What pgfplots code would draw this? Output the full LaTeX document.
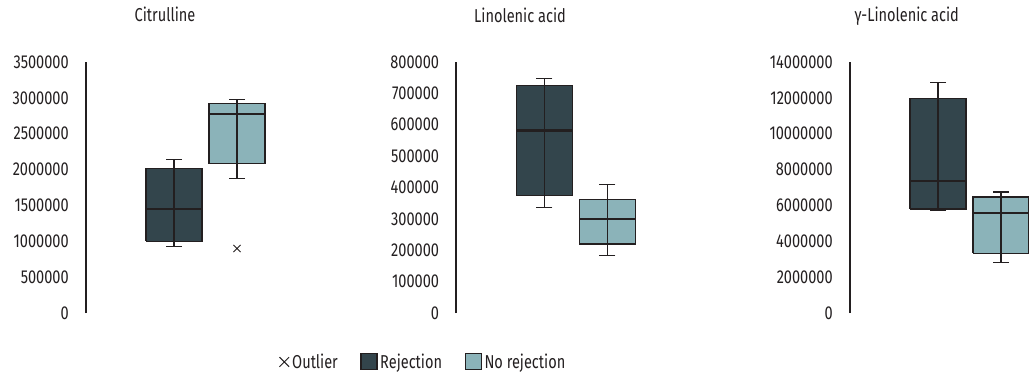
\documentclass[border=0pt]{standalone}
\usepackage{pgfplots}
\pgfplotsset{compat=1.18}
\usepackage{fontspec}
\setmainfont[FakeStretch=0.78]{Fira Sans}
\definecolor{rej}{HTML}{33454C}
\definecolor{norej}{HTML}{8BB3B9}
\definecolor{ink}{HTML}{231F20}
\pgfplotsset{
  panel/.style={
    scale only axis, width=135pt, height=188.25pt,
    xmin=0, xmax=180, ymin=0, enlarge y limits=false, enlarge x limits=false,
    axis x line=none, axis y line*=left,
    axis line style={draw=ink, line width=1.5pt, -},
    major tick length=0pt, ytick style={draw=none},
    scaled y ticks=false,
    /pgf/number format/assume math mode=true,
    yticklabel={\pgfmathprintnumber[fixed,precision=0,1000 sep={}]{\tick}},
    yticklabel style={anchor=east, inner sep=0pt, xshift=-12.75pt, text=ink},
    tick label style={font=\fontsize{14}{16}\selectfont},
    title style={font=\fontsize{14}{16}\selectfont, anchor=base, text=ink},
    clip=false,
  },
}
% #1 left, #2 centre, #3 right, #4 fill, #5 lower whisker, #6 lower quartile, #7 median, #8 upper quartile, #9 upper whisker
\newcommand\mybox[9]{%
  \addplot[fill=#4, draw=ink, line width=0.8pt, line join=miter, forget plot]
    coordinates {(#1,#6) (#3,#6) (#3,#8) (#1,#8) (#1,#6)};
  \addplot[draw=ink, line width=1.7pt, forget plot] coordinates {(#1,#7) (#3,#7)};
  \addplot[draw=ink, line width=0.8pt, mark=-, mark size=6pt,
    mark options={line width=0.8pt}, forget plot] coordinates {(#2,#5) (#2,#9)};
}
\begin{document}
\begin{tikzpicture}
% Panel 1: Citrulline
\begin{axis}[panel, at={(64.5pt,44.25pt)}, anchor=south west,
  ymax=3500000, ytick distance=500000,
  title={Citrulline}, title style={at={(axis description cs:0.439,1.1275)}},
  legend style={at={(axis description cs:1.875,-0.195)}, anchor=center, draw=none,
    font=\fontsize{14}{16}\selectfont, text=ink, legend columns=3, inner sep=1pt,
    /tikz/every even column/.append style={column sep=15pt}},
  legend cell align=left]
\addlegendimage{legend image code/.code={\draw[draw=ink, line width=0.7pt] (3pt,-3.6pt) -- (10.2pt,3.6pt) (3pt,3.6pt) -- (10.2pt,-3.6pt);}}
\addlegendimage{legend image code/.code={\draw[fill=rej, draw=ink, line width=0.8pt] (0pt,-6pt) rectangle (12pt,6pt);}}
\addlegendimage{legend image code/.code={\draw[fill=norej, draw=ink, line width=0.8pt] (0pt,-6pt) rectangle (12pt,6pt);}}
\legend{Outlier, Rejection, No rejection}
\mybox{60}{88}{116}{rej}{925000}{1000000}{1446000}{2010000}{2140000}
\mybox{123}{151}{179}{norej}{1880000}{2080000}{2780000}{2920000}{2975000}
\addplot[only marks, mark=x, mark size=3.8pt, draw=ink, line width=0.7pt, forget plot] coordinates {(151,900000)};
\end{axis}
% Panel 2: Linolenic acid
\begin{axis}[panel, at={(342.2pt,44.25pt)}, anchor=south west,
  ymax=800000, ytick distance=100000,
  title={Linolenic acid}, title style={at={(axis description cs:0.354,1.1275)}}]
\mybox{60}{88}{116}{rej}{335600}{374000}{582000}{724500}{746800}
\mybox{123}{151}{179}{norej}{184000}{220000}{300600}{363000}{410000}
\end{axis}
% Panel 3: gamma-Linolenic acid
\begin{axis}[panel, at={(637.5pt,44.25pt)}, anchor=south west,
  ymax=14000000, ytick distance=2000000,
  title={γ-Linolenic acid}, title style={at={(axis description cs:0.315,1.1275)}}]
\mybox{60}{88}{116}{rej}{5710000}{5800000}{7350000}{11940000}{12880000}
\mybox{123}{151}{179}{norej}{2830000}{3330000}{5560000}{6470000}{6750000}
\end{axis}
\pgfresetboundingbox
\path[use as bounding box] (0pt,0pt) rectangle (771.75pt,279pt);
\end{tikzpicture}
\end{document}
